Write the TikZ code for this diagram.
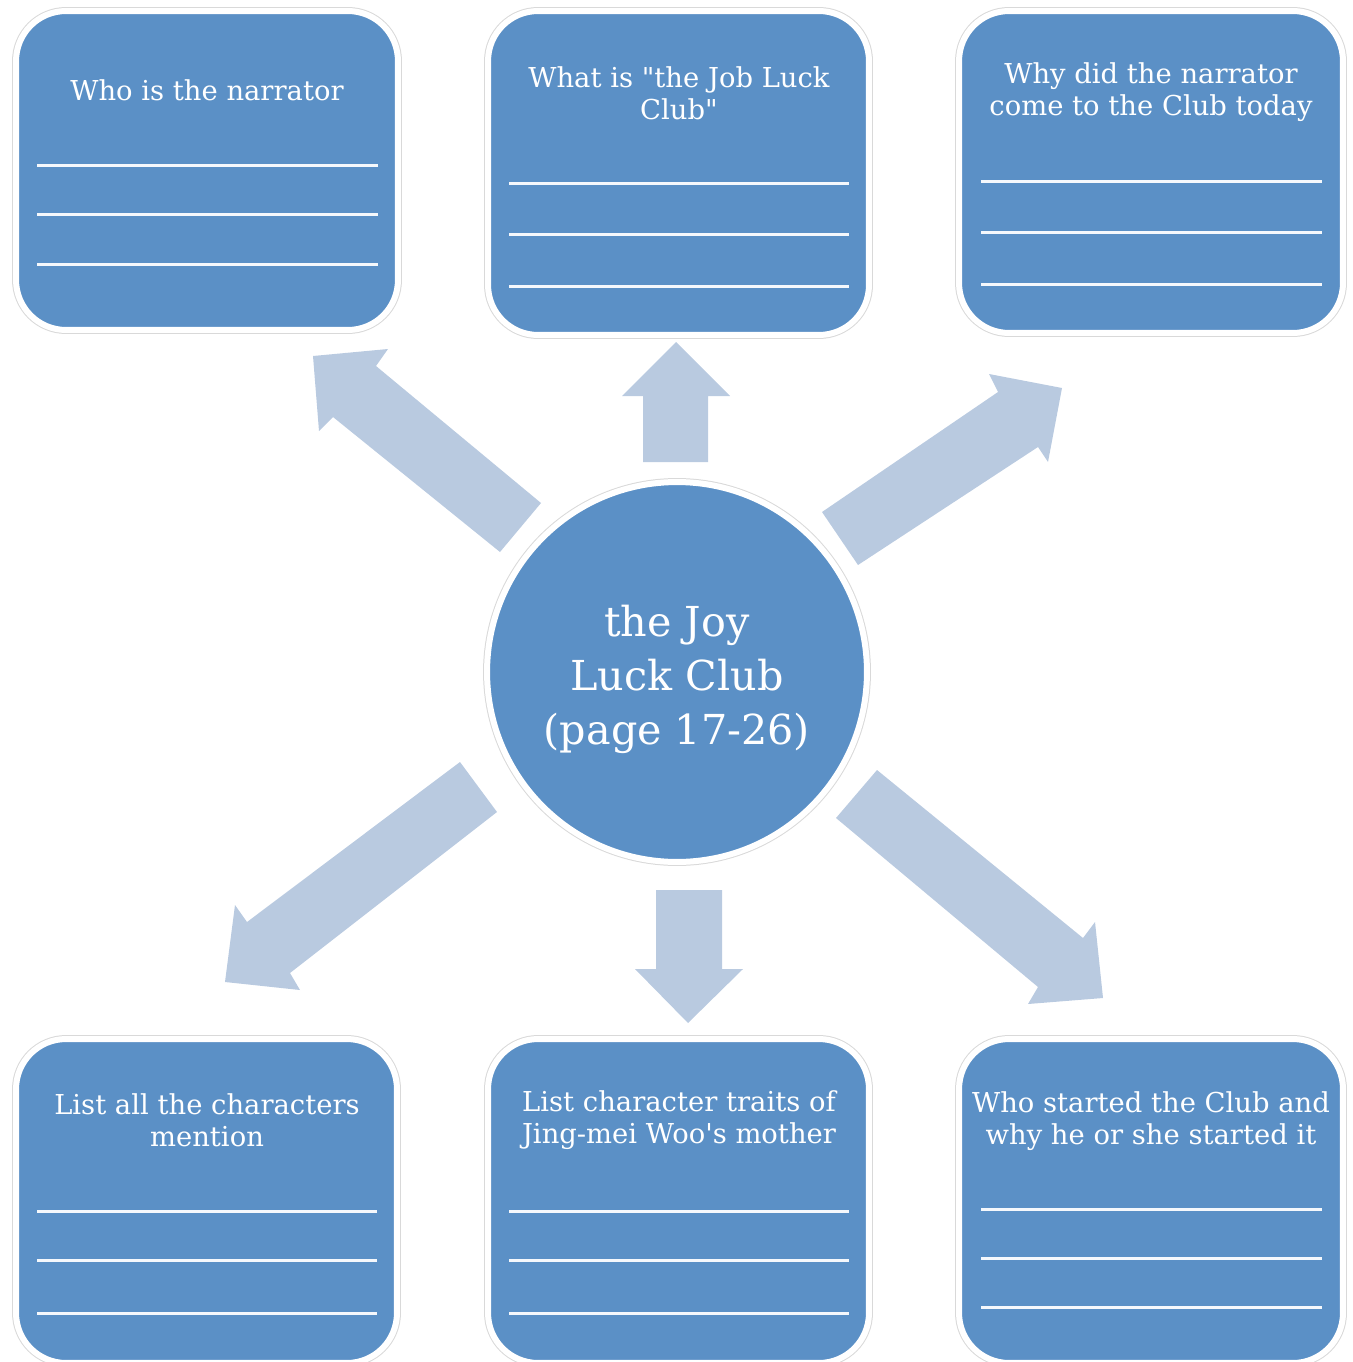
\documentclass[tikz,border=0pt]{standalone}
\usepackage{fontspec}
\setmainfont{DejaVu Serif}
\definecolor{boxblue}{RGB}{91,144,198}
\definecolor{arrowblue}{RGB}{185,202,224}
\begin{document}
\begin{tikzpicture}[x=0.02cm,y=-0.02cm,
  panel/.style={rectangle, rounded corners=1cm, fill=boxblue, draw=white, line width=0.12cm,
    preaction={draw=black!15, line width=0.16cm}, inner sep=0pt},
  hub/.style={circle, fill=boxblue, draw=white, line width=0.12cm,
    preaction={draw=black!15, line width=0.16cm}, minimum size=7.6cm, inner sep=0pt},
  qtext/.style={text=white, align=center, font=\fontsize{15.6}{18.2}\selectfont, inner sep=0pt},
  hubtext/.style={text=white, align=center, font=\fontsize{23.5}{30.7}\selectfont, inner sep=0pt},
  rule/.style={draw=white!94!boxblue, line width=0.06cm},
  blockarrow/.style={fill=arrowblue, draw=none}]
\useasboundingbox (0,0) rectangle (1352,1362);

% panels
\node[panel, minimum width=7.64cm, minimum height=6.38cm] (tl) at (207,170.5) {};
\node[panel, minimum width=7.62cm, minimum height=6.48cm] (tc) at (678.5,173) {};
\node[panel, minimum width=7.68cm, minimum height=6.44cm] (tr) at (1151,172) {};
\node[panel, minimum width=7.62cm, minimum height=6.48cm] (bl) at (206.5,1201) {};
\node[panel, minimum width=7.62cm, minimum height=6.48cm] (bc) at (678.5,1201) {};
\node[panel, minimum width=7.68cm, minimum height=6.48cm] (br) at (1151,1201) {};

% block arrows
\fill[blockarrow] (313,356) -- (388,349) -- (376,366) -- (541,503) -- (500,552) -- (333,417) -- (319,431) -- cycle;
\fill[blockarrow] (676,342) -- (730,396) -- (708,396) -- (708,462) -- (643,462) -- (643,396) -- (622,396) -- cycle;
\fill[blockarrow] (1062,388) -- (1048,462) -- (1038,447) -- (858,565) -- (822,512) -- (998,392) -- (989,374) -- cycle;
\fill[blockarrow] (225,982) -- (235,905) -- (247,922) -- (460,762) -- (497,812) -- (290,973) -- (300,990) -- cycle;
\fill[blockarrow] (688,1023) -- (635,969) -- (656,969) -- (656,890) -- (722,890) -- (722,969) -- (743,969) -- cycle;
\fill[blockarrow] (1103,998) -- (1028,1004) -- (1038,987) -- (836,818) -- (877,770) -- (1083,938) -- (1095,922) -- cycle;

% hub
\node[hub] (hub) at (677,672) {};
\node[hubtext] (hubt) at (677,679) {the Joy\\Luck Club\\(page 17-26)};

% texts
\node[qtext] (tlt) at (207,90) {Who is the narrator};
\node[qtext] (tct) at (679,93) {What is \textquotedbl the Job Luck\\Club\textquotedbl};
\node[qtext] (trt) at (1151,92) {Why did the narrator\\come to the Club today};
\node[qtext] (blt) at (207,1120) {List all the characters\\mention};
\node[qtext] (bct) at (679,1120) {List character traits of\\Jing-mei Woo\textquotesingle s mother};
\node[qtext] (brt) at (1151,1121) {Who started the Club and\\why he or she started it};

% writing lines
\foreach \y in {165,214,264} \draw[rule] (37,\y) -- (378,\y);
\foreach \y in {183,234,286} \draw[rule] (509,\y) -- (849,\y);
\foreach \y in {181,232,284} \draw[rule] (981,\y) -- (1322,\y);
\foreach \y in {1211,1260,1313} \draw[rule] (37,\y) -- (377,\y);
\foreach \y in {1211,1260,1313} \draw[rule] (509,\y) -- (849,\y);
\foreach \y in {1209,1258,1307} \draw[rule] (981,\y) -- (1322,\y);
\end{tikzpicture}
\end{document}
